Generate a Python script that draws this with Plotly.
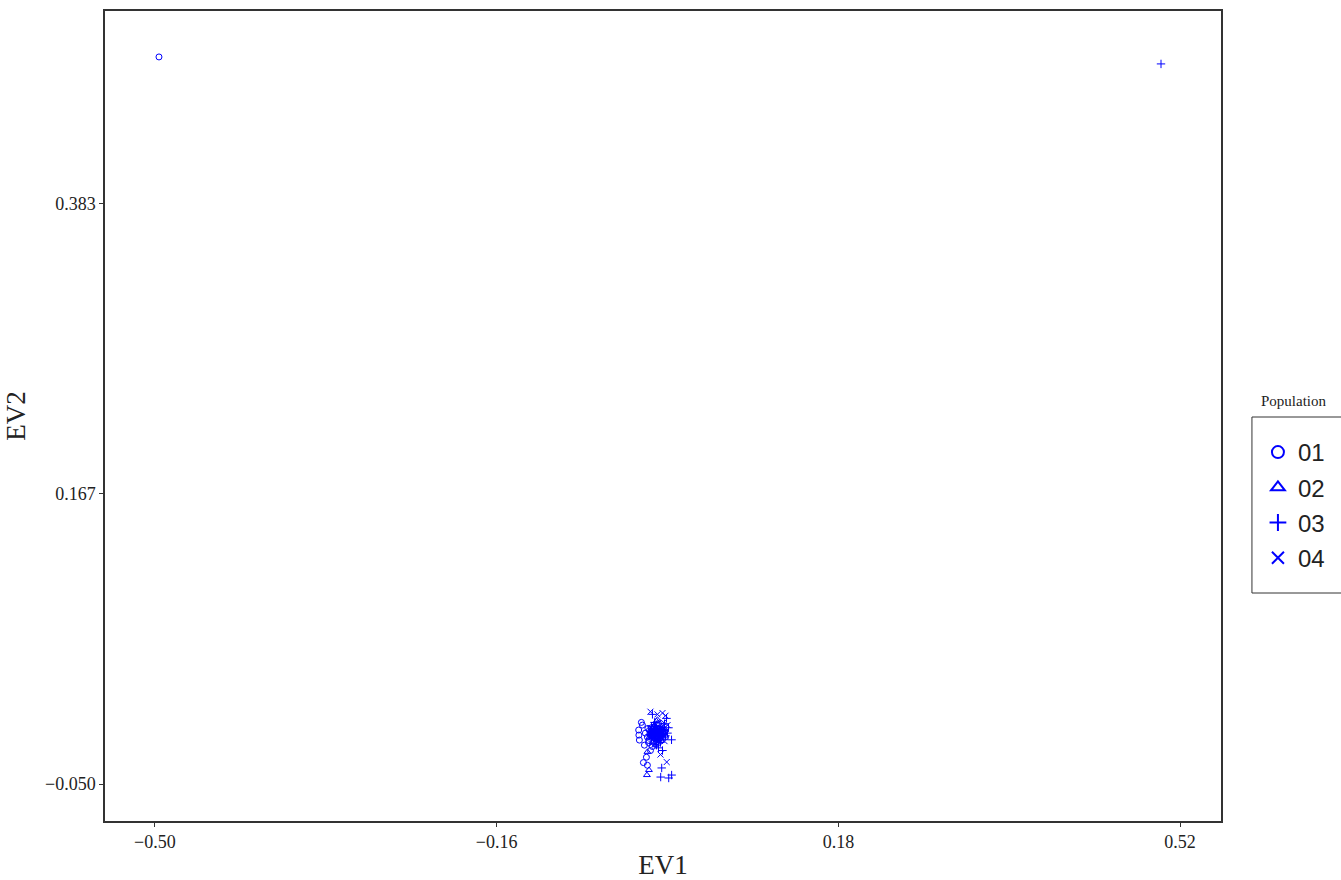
import plotly.graph_objects as go

populations = ["01", "02", "03", "04"]
symbols = ["circle-open", "triangle-up-open", "cross-thin-open", "x-thin-open"]

ev1_01 = [-0.496, -0.0187, -0.0185, -0.0180, -0.0150, -0.0120, -0.0100, -0.0080, -0.0060, -0.0040,
          -0.0020, 0.0000, 0.0020, 0.0040, 0.0060, -0.0090, -0.0030, 0.0010, 0.0050, -0.0130,
          -0.0110, -0.0070, 0.0030, -0.0140, -0.0100, -0.0050, 0.0080, -0.0160,
          -0.0065, -0.0045, -0.0025, -0.0005, 0.0015, 0.0035, -0.0055, -0.0035, -0.0015, 0.0005,
          0.0025, -0.0075, 0.0045, -0.0085, 0.0065, -0.0095, -0.0010, 0.0000]
ev2_01 = [0.4927, -0.0097, -0.0135, -0.0172, -0.0060, -0.0120, -0.0150, -0.0100, -0.0080, -0.0130,
          -0.0110, -0.0090, -0.0140, -0.0070, -0.0120, -0.0190, -0.0160, -0.0050, -0.0100, -0.0210,
          -0.0300, -0.0250, -0.0180, -0.0340, -0.0360, -0.0220, -0.0150, -0.0040,
          -0.0105, -0.0095, -0.0115, -0.0125, -0.0085, -0.0135, -0.0145, -0.0075, -0.0165, -0.0105,
          -0.0155, -0.0125, -0.0095, -0.0175, -0.0110, -0.0085, -0.0185, -0.0065]

ev1_02 = [-0.0085, -0.0105, -0.0060, -0.0040, -0.0020, 0.0000, 0.0020, 0.0040, -0.0080, -0.0030,
          0.0010, 0.0050, -0.0050, -0.0010, 0.0030, -0.0070, 0.0000, -0.0100, 0.0060, -0.0020,
          -0.0045, -0.0025, -0.0005, 0.0015, 0.0035, -0.0055, -0.0035, -0.0015, 0.0025, -0.0065]
ev2_02 = [-0.0395, -0.0433, -0.0100, -0.0120, -0.0080, -0.0140, -0.0110, -0.0090, -0.0150, -0.0060,
          -0.0170, -0.0130, -0.0190, -0.0030, -0.0160, -0.0120, -0.0020, -0.0260, -0.0080, -0.0210,
          -0.0105, -0.0125, -0.0095, -0.0115, -0.0135, -0.0145, -0.0075, -0.0155, -0.0100, -0.0130]

ev1_03 = [0.501, 0.0042, 0.0032, 0.0141, 0.0112, 0.0140, 0.0100, 0.0080, 0.0060, 0.0040,
          0.0020, 0.0000, -0.0020, -0.0040, -0.0060, 0.0070, 0.0030, -0.0010, 0.0090, 0.0050,
          -0.0050, 0.0110, 0.0010, -0.0030,
          -0.0045, -0.0025, -0.0005, 0.0015, 0.0035, 0.0055, -0.0035, -0.0015, 0.0025, 0.0045,
          -0.0065, 0.0065, 0.0005, -0.0020]
ev2_03 = [0.4875, -0.0380, -0.0448, -0.0433, -0.0455, -0.0170, -0.0120, -0.0140, -0.0100, -0.0130,
          -0.0110, -0.0160, -0.0090, -0.0120, -0.0070, -0.0050, -0.0190, -0.0210, -0.0010, -0.0250,
          0.0020, -0.0080, -0.0230, -0.0040,
          -0.0115, -0.0135, -0.0105, -0.0145, -0.0095, -0.0125, -0.0155, -0.0085, -0.0165, -0.0110,
          -0.0140, -0.0150, -0.0175, -0.0100]

ev1_04 = [0.0092, -0.0070, 0.0050, 0.0080, -0.0030, 0.0010, 0.0030, -0.0050, -0.0010, 0.0060,
          0.0020, -0.0020, 0.0040, -0.0040, 0.0000, 0.0070, 0.0100, -0.0060, 0.0030, 0.0060,
          -0.0045, -0.0025, -0.0005, 0.0015, 0.0035, -0.0055, -0.0015, 0.0025, 0.0005, -0.0035]
ev2_04 = [-0.0336, 0.0040, 0.0030, 0.0010, -0.0100, -0.0120, -0.0080, -0.0110, -0.0140, -0.0090,
          -0.0150, -0.0060, -0.0130, -0.0160, 0.0020, -0.0180, -0.0060, -0.0200, -0.0280, -0.0040,
          -0.0125, -0.0105, -0.0135, -0.0095, -0.0115, -0.0145, -0.0165, -0.0085, -0.0120, -0.0075]

xs = [ev1_01, ev1_02, ev1_03, ev1_04]
ys = [ev2_01, ev2_02, ev2_03, ev2_04]

x_tickvals = [-0.50, -0.16, 0.18, 0.52]
x_ticktext = ["\u22120.50", "\u22120.16", "0.18", "0.52"]
y_tickvals = [-0.050, 0.1667, 0.3833]
y_ticktext = ["\u22120.050", "0.167", "0.383"]

blue = "#0000FF"
fig = go.Figure()
for name, sym, x, y in zip(populations, symbols, xs, ys):
    fig.add_trace(go.Scatter(
        x=x, y=y, mode="markers", name=name, legendgroup=name,
        marker=dict(symbol=sym, size=6, color=blue, line=dict(color=blue, width=1)),
    ))

serif = "Liberation Serif, Times New Roman, serif"
axis_common = dict(
    showgrid=False, zeroline=False, showline=True, mirror=True, automargin=False,
    linecolor="#333333", linewidth=1.5,
    ticks="outside", ticklen=4, tickcolor="#333333", tickwidth=1,
    tickfont=dict(family=serif, size=18, color="#222222"),
)

L, R, T, B = 105, 118, 11, 59
W, H = 1341, 880
pw, ph = W - L - R, H - T - B

def px_x(p):
    return (p - L) / pw

def px_y(p):
    return (H - B - p) / ph

fig.update_layout(
    width=W, height=H,
    margin=dict(l=L, r=R, t=T, b=B),
    plot_bgcolor="white", paper_bgcolor="white",
    xaxis=dict(range=[-0.5497, 0.5607], tickvals=x_tickvals, ticktext=x_ticktext,
               title=dict(text="EV1", font=dict(family=serif, size=27, color="#222222"), standoff=6),
               **axis_common),
    yaxis=dict(range=[-0.0776, 0.527], tickvals=y_tickvals, ticktext=y_ticktext,
               title=dict(text="EV2", font=dict(family=serif, size=27, color="#222222"), standoff=12),
               **axis_common),
    legend=dict(
        x=px_x(1260), y=px_y(430), xanchor="left", yanchor="top",
        borderwidth=0, bgcolor="rgba(0,0,0,0)",
        font=dict(family="Liberation Sans, Arial, sans-serif", size=24, color="#222222"),
        tracegroupgap=1, itemsizing="constant",
    ),
    showlegend=True,
    shapes=[dict(
        type="rect", xref="paper", yref="paper",
        x0=px_x(1254), x1=px_x(1360), y0=px_y(593), y1=px_y(417),
        line=dict(color="#333333", width=1), fillcolor="rgba(0,0,0,0)", layer="below",
    )],
    annotations=[dict(
        text="Population", x=px_x(1296), y=px_y(401), xref="paper", yref="paper",
        xanchor="center", yanchor="middle", showarrow=False,
        font=dict(family=serif, size=15, color="#222222"),
    )],
)
fig.write_html("out.html")
